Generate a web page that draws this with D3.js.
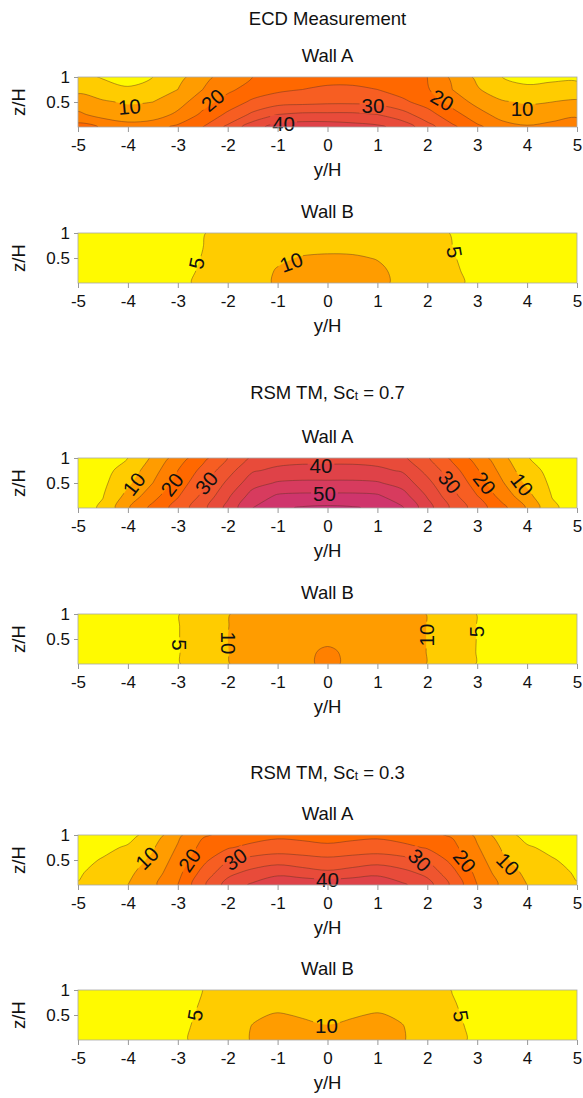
<!DOCTYPE html>
<html>
<head>
<meta charset="utf-8">
<script src="https://cdn.jsdelivr.net/npm/d3@7"></script>
<style>
  body { margin: 0; background: #fff; }
  text { font-family: "Liberation Sans", Arial, sans-serif; fill: #111; }
</style>
</head>
<body>
<svg id="chart" width="583" height="1098"></svg>
<script>
// grid positions of the sampled values
var yGrid = [-5, -4.5, -4, -3.5, -3, -2.5, -2, -1.5, -1, -0.5, 0, 0.5, 1, 1.5, 2, 2.5, 3, 3.5, 4, 4.5, 5];
var zGrid = [0, 0.25, 0.5, 0.75, 1];
var xTicks = [-5, -4, -3, -2, -1, 0, 1, 2, 3, 4, 5];
var zTicks = [0.5, 1];
var levels = [5, 10, 15, 20, 25, 30, 35, 40, 45, 50, 55];
var levelColors = ["#FFFA00", "#FFCC00", "#FF9C00", "#FF8000", "#FF6800", "#F75E22",
  "#EF552F", "#E84B3A", "#DF4248", "#D73B5E", "#CF356C", "#C83076"];

// rows go from z/H = 0 (first) to z/H = 1 (last)
var ecdWallA = [
  [22, 19.5, 17, 18, 21, 25, 31, 38, 42, 43, 43, 42, 41, 38, 32, 26, 21, 17, 15.5, 16.5, 18],
  [16, 13, 12, 12.5, 16, 21, 26, 31, 35, 36, 36, 36, 35, 32, 27, 22, 17, 13, 12, 13, 14],
  [12, 10.5, 9.5, 10, 13, 18, 22, 26, 28, 28.5, 29, 29, 28.5, 26, 23, 18, 13.5, 10.5, 9.5, 10, 11],
  [9, 7.5, 5.5, 7, 10, 15, 19, 22, 24, 25, 25.5, 25.5, 25, 23, 20.5, 15, 10.5, 7, 6, 6.5, 6],
  [7, 4.5, 3.5, 5, 8.5, 13, 18, 20, 22, 23, 24, 24, 23, 21, 20, 14, 9, 5, 3.5, 4, 4.5]
];
var ecdWallB = [
  [2, 2, 2.5, 3, 4.4, 5.5, 7, 8.5, 10.5, 11.5, 11.8, 11.7, 11, 9, 7.2, 5.6, 4.4, 3, 2.5, 2, 2],
  [2, 2, 2.5, 3, 4.2, 5.3, 6.9, 8.2, 10.3, 11.2, 11.5, 11.4, 10.8, 8.8, 7, 5.4, 4.2, 3, 2.5, 2, 2],
  [2, 2, 2.5, 3, 4, 5.1, 6.8, 7.8, 9.3, 10.3, 10.6, 10.5, 9.8, 8.2, 6.8, 5.2, 4, 3, 2.5, 2, 2],
  [2, 2, 2.5, 3, 3.9, 4.95, 6.6, 7.5, 8, 8.6, 8.8, 8.7, 8.2, 7.6, 6.6, 5, 3.9, 3, 2.5, 2, 2],
  [2, 2, 2.5, 3, 3.8, 4.8, 6.5, 7.3, 7.6, 8, 8.2, 8.1, 7.8, 7.3, 6.5, 4.8, 3.8, 3, 2.5, 2, 2]
];
var sc07WallA = [
  [3, 5.7, 14.5, 21.5, 27, 33.5, 41.5, 50, 54, 55.5, 56, 55.5, 54, 50.5, 42, 34, 27.5, 21.5, 14.5, 5.8, 3],
  [2.5, 4.8, 11.5, 18, 24.5, 31, 39, 47, 50.5, 51, 51, 51, 50.5, 47, 39.5, 31.5, 25, 18, 11.5, 4.8, 2.5],
  [2, 4, 9, 15, 22, 29, 36, 43, 45.5, 46, 46, 46, 45.5, 43, 36.5, 29.5, 22.5, 15.5, 9, 4, 2],
  [2, 3.5, 7, 13, 20, 26.5, 33, 39.5, 41, 41.5, 41.5, 41.5, 41, 39.5, 33.5, 27, 20.5, 13.5, 7, 3.5, 2],
  [2, 3, 5, 10.8, 17.5, 23.5, 30, 36, 38, 38.5, 38.5, 38.5, 38, 36, 30.5, 24, 18, 11.5, 5.2, 3, 2]
];
var sc07WallB = [
  [2, 2.3, 2.8, 3.6, 4.7, 7.5, 9.8, 12, 13, 13.8, 16.2, 13.8, 13, 12, 9.9, 7.5, 4.85, 3.6, 2.8, 2.3, 2],
  [2, 2.3, 2.8, 3.6, 4.75, 7.5, 9.9, 12, 13, 13.6, 16, 13.6, 13, 12, 9.9, 7.5, 4.85, 3.6, 2.8, 2.3, 2],
  [2, 2.3, 2.8, 3.6, 4.8, 7.5, 10, 12, 12.8, 13.3, 13.5, 13.3, 12.8, 12, 9.9, 7.5, 4.9, 3.6, 2.8, 2.3, 2],
  [2, 2.3, 2.8, 3.6, 4.8, 7.5, 9.9, 12, 12.6, 13, 13.2, 13, 12.6, 12, 9.9, 7.5, 4.9, 3.6, 2.8, 2.3, 2],
  [2, 2.3, 2.8, 3.6, 4.8, 7.5, 9.8, 11.8, 12.4, 12.8, 13, 12.8, 12.4, 11.8, 9.9, 7.5, 4.9, 3.6, 2.8, 2.3, 2]
];
var sc03WallA = [
  [5.2, 7.5, 10, 14, 20, 29, 37, 40.8, 44, 44, 43.5, 44, 44, 40.8, 37, 29, 20, 14, 10, 7.5, 5.2],
  [4.5, 6.5, 9, 12.5, 18.5, 26.5, 33.5, 36.5, 38.5, 37, 35.8, 37, 38.5, 36.5, 33.5, 26.5, 18.5, 12.5, 9, 6.5, 4.5],
  [3.8, 5.3, 7.5, 11, 17, 23.5, 29.5, 31.5, 32.8, 32, 31.2, 32, 32.8, 31.5, 29.5, 23.5, 17, 11, 7.5, 5.3, 3.8],
  [3, 4, 5.5, 9.5, 15.5, 21.5, 24.5, 26.5, 27.2, 26.8, 26, 26.8, 27.2, 26.5, 24.5, 21.5, 15.5, 9.5, 5.5, 4, 3],
  [2.5, 3, 3.5, 7, 14, 19.5, 21, 22.5, 24, 23.5, 23, 23.5, 24, 22.5, 21, 19.5, 14, 7, 3.5, 3, 2.5]
];
var sc03WallB = [
  [2, 2, 2.3, 3, 4.3, 6, 8, 10.3, 11.5, 11.2, 10.9, 11.2, 11.5, 10.3, 8, 6, 4.3, 3, 2.3, 2, 2],
  [2, 2, 2.3, 3, 4.2, 5.8, 7.8, 10.2, 11.5, 10.8, 10.2, 10.8, 11.5, 10.2, 7.8, 5.8, 4.2, 3, 2.3, 2, 2],
  [2, 2, 2.3, 3, 4, 5.5, 7.5, 9.5, 10.3, 9.7, 9.3, 9.7, 10.3, 9.5, 7.5, 5.5, 4, 3, 2.3, 2, 2],
  [2, 2, 2.3, 3, 3.9, 5.2, 7, 8, 8.6, 8.4, 8.2, 8.4, 8.6, 8, 7, 5.2, 3.9, 3, 2.3, 2, 2],
  [2, 2, 2.3, 3, 3.8, 5, 6.6, 7.5, 8, 7.9, 7.8, 7.9, 8, 7.5, 6.6, 4.9, 3.8, 3, 2.3, 2, 2]
];

// contour labels: text, position (y/H, z/H), rotation in degrees
var ecdWallALabels = [
  ["10", -3.97, 0.41, -5], ["20", -2.3, 0.54, -40], ["40", -0.88, 0.08, 0],
  ["30", 0.91, 0.43, 0], ["20", 2.3, 0.54, 30], ["10", 3.9, 0.38, 0]
];
var ecdWallBLabels = [["5", -2.63, 0.4, -78], ["10", -0.73, 0.42, -20], ["5", 2.55, 0.62, 80]];
var sc07WallALabels = [
  ["10", -3.88, 0.48, -52], ["20", -3.12, 0.47, -52], ["30", -2.43, 0.5, -50],
  ["40", -0.13, 0.86, 0], ["50", -0.06, 0.3, 0],
  ["30", 2.45, 0.52, 50], ["20", 3.15, 0.5, 52], ["10", 3.9, 0.47, 52]
];
var sc07WallBLabels = [["5", -2.96, 0.38, 90], ["10", -1.98, 0.42, 90], ["10", 1.98, 0.58, -90], ["5", 2.98, 0.65, -90]];
var sc03WallALabels = [
  ["10", -3.62, 0.54, -45], ["20", -2.77, 0.5, -55], ["30", -1.85, 0.52, -35], ["40", 0, 0.12, 0],
  ["30", 1.85, 0.5, 45], ["20", 2.75, 0.48, 50], ["10", 3.62, 0.42, 45]
];
var sc03WallBLabels = [["5", -2.66, 0.5, -80], ["10", -0.02, 0.3, 0], ["5", 2.68, 0.48, 80]];

var sectionTitles = [
  { text: "ECD Measurement", sub: "", tail: "", y: 18 },
  { text: "RSM TM, Sc", sub: "t", tail: " = 0.7", y: 392 },
  { text: "RSM TM, Sc", sub: "t", tail: " = 0.3", y: 772 }
];
var panels = [
  { title: "Wall A", top: 77, values: ecdWallA, labels: ecdWallALabels },
  { title: "Wall B", top: 233, values: ecdWallB, labels: ecdWallBLabels },
  { title: "Wall A", top: 458, values: sc07WallA, labels: sc07WallALabels },
  { title: "Wall B", top: 614, values: sc07WallB, labels: sc07WallBLabels },
  { title: "Wall A", top: 835, values: sc03WallA, labels: sc03WallALabels },
  { title: "Wall B", top: 990, values: sc03WallB, labels: sc03WallBLabels }
];

var svg = d3.select("#chart");
var plotLeft = 78, plotRight = 577, plotHeight = 50;
var x = d3.scaleLinear().domain([-5, 5]).range([plotLeft, plotRight]);
var colToY = d3.scaleLinear().domain([0.5, yGrid.length - 0.5]).range([yGrid[0], yGrid[yGrid.length - 1]]);
var rowToZ = d3.scaleLinear().domain([0.5, zGrid.length - 0.5]).range([zGrid[0], zGrid[zGrid.length - 1]]);
var defs = svg.append("defs");

sectionTitles.forEach(function (t) {
  var txt = svg.append("text")
    .attr("x", (plotLeft + plotRight) / 2)
    .attr("y", t.y)
    .attr("text-anchor", "middle")
    .attr("dominant-baseline", "central")
    .style("font-size", "18.5px")
    .text(t.text);
  if (t.sub) {
    txt.append("tspan").attr("baseline-shift", "-30%").style("font-size", "12px").text(t.sub);
    txt.append("tspan").text(t.tail);
  }
});

panels.forEach(function (p, idx) {
  var bottom = p.top + plotHeight;
  var z = d3.scaleLinear().domain([0, 1]).range([bottom, p.top]);
  var g = svg.append("g").attr("id", "panel" + idx);

  defs.append("clipPath").attr("id", "clip" + idx)
    .append("rect")
    .attr("x", plotLeft).attr("y", p.top)
    .attr("width", plotRight - plotLeft).attr("height", plotHeight);

  var ringLine = d3.line()
    .x(function (pt) { return x(colToY(pt[0])); })
    .y(function (pt) { return z(rowToZ(pt[1])); })
    .curve(d3.curveCatmullRomClosed.alpha(0.5));
  function contourPath(c) {
    return c.coordinates.map(function (polygon) {
      return polygon.map(function (ring) { return ringLine(ring.slice(0, -1)); }).join("");
    }).join("");
  }

  var flat = [].concat.apply([], p.values);
  var contours = d3.contours()
    .size([yGrid.length, zGrid.length])
    .thresholds(levels)(flat);

  var plot = g.append("g").attr("clip-path", "url(#clip" + idx + ")");
  plot.append("rect")
    .attr("x", plotLeft).attr("y", p.top)
    .attr("width", plotRight - plotLeft).attr("height", plotHeight)
    .attr("fill", levelColors[0]);
  plot.selectAll("path.band")
    .data(contours)
    .enter()
    .append("path")
    .attr("class", "band")
    .attr("d", contourPath)
    .attr("fill-rule", "evenodd")
    .attr("fill", function (d, i) { return levelColors[i + 1]; });

  // mask so the contour lines break behind their labels
  var mask = defs.append("mask").attr("id", "mask" + idx)
    .attr("maskUnits", "userSpaceOnUse")
    .attr("x", 0).attr("y", 0).attr("width", 583).attr("height", 1098);
  mask.append("rect").attr("x", 0).attr("y", 0).attr("width", 583).attr("height", 1098).attr("fill", "white");

  plot.append("g")
    .attr("mask", "url(#mask" + idx + ")")
    .selectAll("path")
    .data(contours)
    .enter()
    .append("path")
    .attr("d", contourPath)
    .attr("fill", "none")
    .attr("stroke", "#5a3020")
    .attr("stroke-opacity", 0.55)
    .attr("stroke-width", 0.8);

  var labelNodes = g.selectAll("text.clabel")
    .data(p.labels)
    .enter()
    .append("text")
    .attr("class", "clabel")
    .attr("text-anchor", "middle")
    .attr("dominant-baseline", "central")
    .attr("transform", function (d) {
      return "translate(" + x(d[1]) + "," + z(d[2]) + ") rotate(" + d[3] + ")";
    })
    .style("font-size", "20.5px")
    .text(function (d) { return d[0]; });
  labelNodes.each(function (d) {
    var w = this.getComputedTextLength() + 4;
    mask.append("rect")
      .attr("x", -w / 2).attr("y", -8).attr("width", w).attr("height", 16)
      .attr("fill", "black")
      .attr("transform", "translate(" + x(d[1]) + "," + z(d[2]) + ") rotate(" + d[3] + ")");
  });

  g.append("rect")
    .attr("x", plotLeft).attr("y", p.top)
    .attr("width", plotRight - plotLeft).attr("height", plotHeight)
    .attr("fill", "none").attr("stroke", "#a8a8a8").attr("stroke-width", 0.8);

  var xAxis = g.append("g")
    .attr("transform", "translate(0," + bottom + ")")
    .call(d3.axisBottom(x).tickValues(xTicks).tickSize(5).tickPadding(7)
      .tickFormat(function (d) { return String(d); }));
  var zAxis = g.append("g")
    .attr("transform", "translate(" + plotLeft + ",0)")
    .call(d3.axisLeft(z).tickValues(zTicks).tickSize(4).tickPadding(4)
      .tickFormat(function (d) { return String(d); }));
  [xAxis, zAxis].forEach(function (a) {
    a.select(".domain").remove();
    a.selectAll(".tick line").attr("stroke", "#999");
    a.selectAll(".tick text").style("font-size", "17px").attr("fill", "#111")
      .style("font-family", "'Liberation Sans', Arial, sans-serif");
  });

  g.append("text")
    .attr("x", (plotLeft + plotRight) / 2).attr("y", p.top - 22)
    .attr("text-anchor", "middle").attr("dominant-baseline", "central")
    .style("font-size", "18.5px")
    .text(p.title);
  g.append("text")
    .attr("x", (plotLeft + plotRight) / 2).attr("y", bottom + 42)
    .attr("text-anchor", "middle").attr("dominant-baseline", "central")
    .style("font-size", "18.5px")
    .text("y/H");
  g.append("text")
    .attr("transform", "translate(18," + (p.top + plotHeight / 2) + ") rotate(-90)")
    .attr("text-anchor", "middle").attr("dominant-baseline", "central")
    .style("font-size", "18.5px")
    .text("z/H");
});
</script>
</body>
</html>
